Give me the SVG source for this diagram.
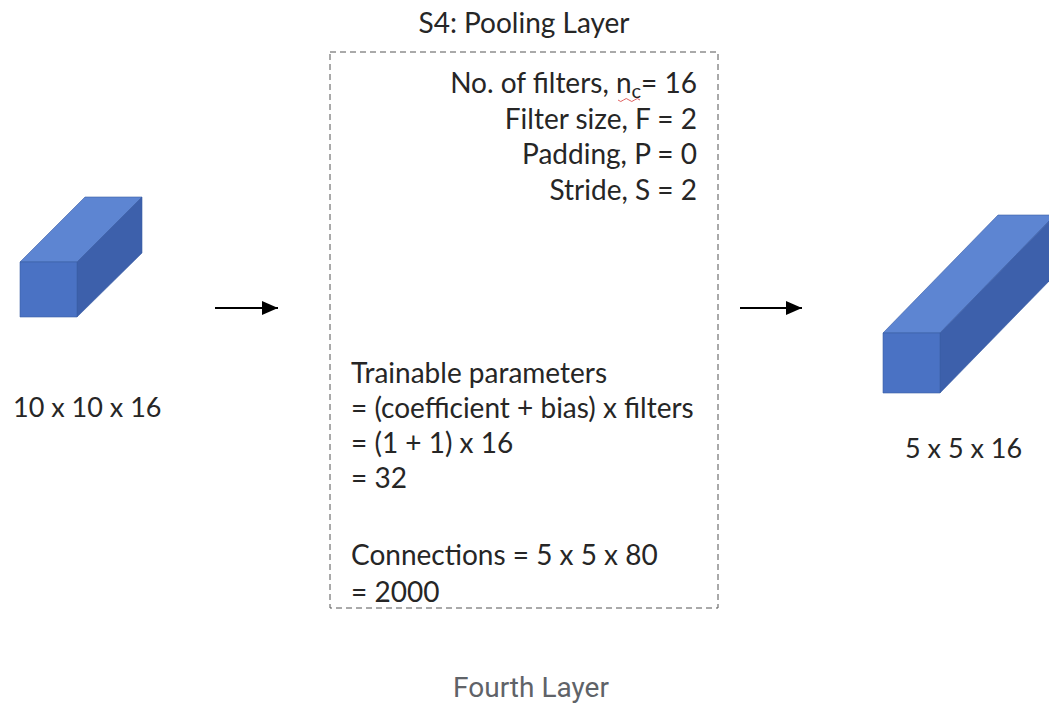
<svg xmlns="http://www.w3.org/2000/svg" width="1049" height="705" viewBox="0 0 1049 705">
  <style>
    .t { font-family: Lato, "Open Sans", "Liberation Sans", sans-serif; font-size: 28px; fill: #262626; }
    .lbl { font-family: Lato, "Open Sans", "Liberation Sans", sans-serif; font-size: 27px; fill: #262626; }
    .front { fill: #4a72c4; }
    .top { fill: #5d85d2; }
    .side { fill: #3d60ab; }
    .edge { stroke: #3a5ea6; stroke-width: 0.6; stroke-linejoin: round; }
    .conn { stroke: #000; stroke-width: 2; fill: none; }
    .caption { font-family: Roboto, "Liberation Sans", sans-serif; font-size: 28px; fill: #5f6368; }
  </style>
  <defs>
    <marker id="head" markerUnits="userSpaceOnUse" markerWidth="18" markerHeight="16" refX="16" refY="7" orient="auto">
      <path d="M0,0 L16,7 L0,14 Z" fill="#000"/>
    </marker>
  </defs>
  <rect width="1049" height="705" fill="#ffffff"/>

  <!-- input volume 10 x 10 x 16 -->
  <g id="input-volume">
    <polygon class="top edge" points="20,262 85,197 142,197 77,262"/>
    <polygon class="side edge" points="77,262 142,197 142,253 77,317"/>
    <polygon class="front edge" points="20,262 77,262 77,317 20,317"/>
    <text class="lbl" x="13" y="417">10 x 10 x 16</text>
  </g>

  <!-- pooling layer box -->
  <g id="pooling-layer">
    <text class="t" x="524" y="33" text-anchor="middle">S4: Pooling Layer</text>
    <rect x="330" y="52" width="388" height="556" fill="none" stroke="#555" stroke-width="1" stroke-dasharray="6,4"/>
    <text class="t" x="697" y="93" text-anchor="end">No. of filters, n<tspan font-size="20" dy="5">c</tspan><tspan dy="-5">= 16</tspan></text>
    <path d="M618,100 q2.75,3 5.5,0 t5.5,0 t5.5,0 t5.5,0" fill="none" stroke="#e06060" stroke-width="1"/>
    <text class="t" x="697" y="129" text-anchor="end">Filter size, F = 2</text>
    <text class="t" x="697" y="164" text-anchor="end">Padding, P = 0</text>
    <text class="t" x="697" y="200" text-anchor="end">Stride, S = 2</text>
    <text class="t" x="351" y="383">Trainable parameters</text>
    <text class="t" x="351" y="418">= (coefficient + bias) x filters</text>
    <text class="t" x="351" y="453">= (1 + 1) x 16</text>
    <text class="t" x="351" y="488">= 32</text>
    <text class="t" x="351" y="565">Connections = 5 x 5 x 80</text>
    <text class="t" x="351" y="602">= 2000</text>
  </g>

  <!-- output volume 5 x 5 x 16 -->
  <g id="output-volume">
    <polygon class="top edge" points="883,333 998,215 1055,215 940,333"/>
    <polygon class="side edge" points="940,333 1055,215 1055,275 940,393"/>
    <polygon class="front edge" points="883,333 940,333 940,393 883,393"/>
    <text class="lbl" x="905" y="458">5 x 5 x 16</text>
  </g>

  <g id="connectors">
    <line class="conn" x1="215" y1="308" x2="278" y2="308" marker-end="url(#head)"/>
    <line class="conn" x1="740" y1="308" x2="802" y2="308" marker-end="url(#head)"/>
  </g>

  <text class="caption" x="531" y="697" text-anchor="middle">Fourth Layer</text>
</svg>
